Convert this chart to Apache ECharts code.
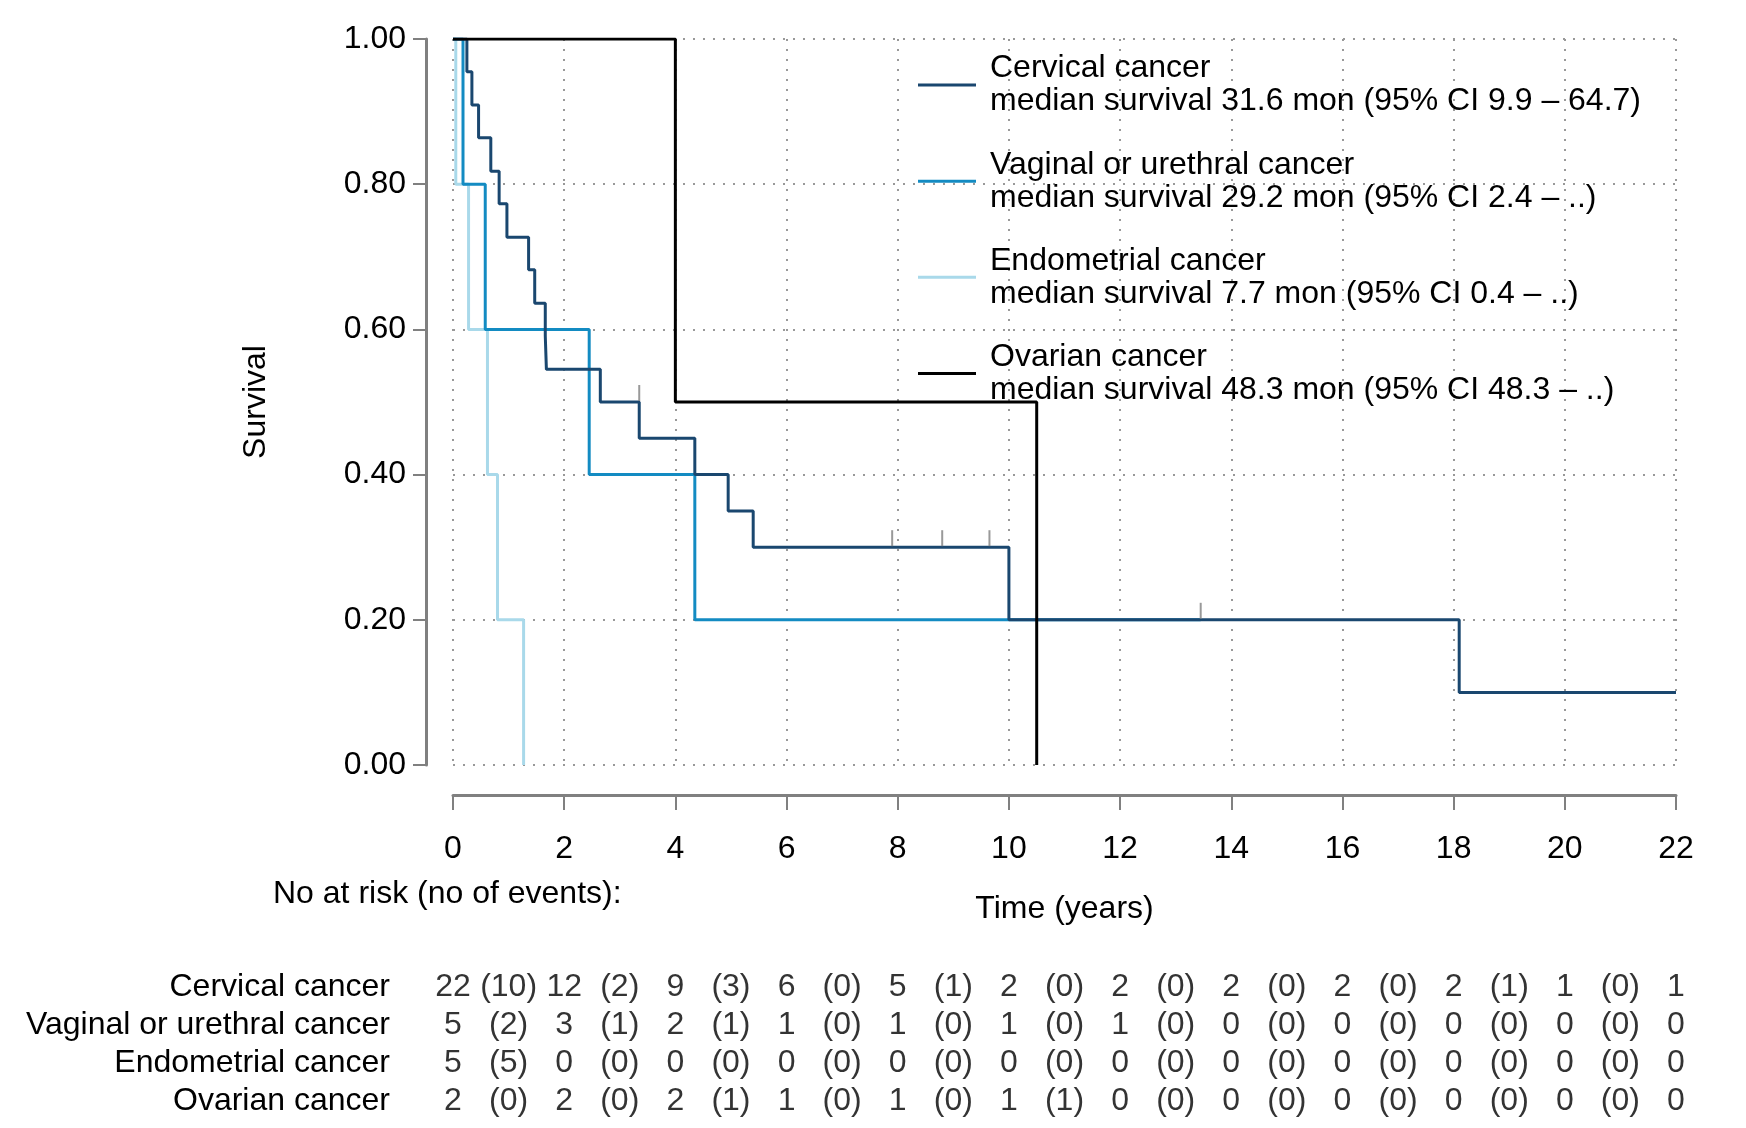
<html>
<head>
<script src="https://cdnjs.cloudflare.com/ajax/libs/echarts/6.0.0/echarts.min.js"></script>
</head>
<body style="margin:0">
<div id="main" style="width:1746px;height:1128px;"></div>
<script>
var groups = ['Cervical cancer', 'Vaginal or urethral cancer', 'Endometrial cancer', 'Ovarian cancer'];
var medians = ['median survival 31.6 mon (95% CI 9.9 \u2013 64.7)', 'median survival 29.2 mon (95% CI 2.4 \u2013 ..)',
    'median survival 7.7 mon (95% CI 0.4 \u2013 ..)', 'median survival 48.3 mon (95% CI 48.3 \u2013 ..)'];
var colors = ['#1a476f', '#138bc2', '#a9d9ea', '#000000'];

// Kaplan-Meier steps [years, survival]
var cervical = [[0, 1], [0.25, 0.955], [0.34, 0.909], [0.46, 0.864], [0.68, 0.818], [0.83, 0.773], [0.97, 0.727],
    [1.36, 0.682], [1.47, 0.636], [1.66, 0.591], [1.68, 0.545], [2.65, 0.5], [3.35, 0.45], [4.35, 0.4],
    [4.95, 0.35], [5.4, 0.3], [10.0, 0.2], [18.1, 0.1], [22, 0.1]];
var vaginal = [[0, 1], [0.18, 0.8], [0.58, 0.6], [2.45, 0.4], [4.35, 0.2], [13.45, 0.2]];
var endometrial = [[0, 1], [0.05, 0.8], [0.28, 0.6], [0.62, 0.4], [0.8, 0.2], [1.27, 0]];
var ovarian = [[0, 1], [4.0, 0.5], [10.5, 0], [10.5, 0]];
var cervicalCensor = [[3.35, 0.5], [7.9, 0.3], [8.8, 0.3], [9.65, 0.3]];
var vaginalCensor = [[13.45, 0.2]];

// number at risk at 0,2,...,22 and events in between
var atRisk = [
    [22, 12, 9, 6, 5, 2, 2, 2, 2, 2, 1, 1],
    [5, 3, 2, 1, 1, 1, 1, 0, 0, 0, 0, 0],
    [5, 0, 0, 0, 0, 0, 0, 0, 0, 0, 0, 0],
    [2, 2, 2, 1, 1, 1, 0, 0, 0, 0, 0, 0]
];
var events = [
    [10, 2, 3, 0, 1, 0, 0, 0, 0, 1, 0],
    [2, 1, 1, 0, 0, 0, 0, 0, 0, 0, 0],
    [5, 0, 0, 0, 0, 0, 0, 0, 0, 0, 0],
    [0, 0, 1, 0, 0, 1, 0, 0, 0, 0, 0]
];

var font = 'Liberation Sans, Arial, sans-serif';
var fs = 32;
var grey = '#808080';

var tableData = [];
for (var r = 0; r < groups.length; r++) {
    for (var i = 0; i < atRisk[r].length; i++) tableData.push([i * 2, groups[r], String(atRisk[r][i])]);
    for (var j = 0; j < events[r].length; j++) tableData.push([j * 2 + 1, groups[r], '(' + events[r][j] + ')']);
}

var kmSeries = [cervical, vaginal, endometrial, ovarian].map(function (d, k) {
    return {
        name: groups[k], type: 'line', step: 'end', data: d, showSymbol: false,
        lineStyle: { color: colors[k], width: 3 }, itemStyle: { color: colors[k] },
        z: k == 3 ? 5 : 4 - k, silent: true
    };
});
function censor(d) {
    return {
        type: 'scatter', data: d, symbol: 'rect', symbolSize: [2, 16], symbolOffset: [0, -9],
        itemStyle: { color: grey }, silent: true, z: 6
    };
}

var chart = echarts.init(document.getElementById('main'));
chart.setOption({
    animation: false,
    backgroundColor: '#fff',
    textStyle: { fontFamily: font },
    legend: {
        data: groups, orient: 'vertical', left: 913, top: 36, itemGap: 8,
        itemWidth: 58, itemHeight: 3, icon: 'rect',
        formatter: function (n) { return n + '\n' + medians[groups.indexOf(n)]; },
        textStyle: { fontSize: fs, lineHeight: 33, color: '#000', fontFamily: font, padding: [0, 0, 0, 9] }
    },
    grid: [
        { left: 453, right: 70, top: 39, height: 726 },
        { left: 453, right: 70, top: 968, height: 160 }
    ],
    xAxis: [{
        type: 'value', min: 0, max: 22, interval: 2, offset: 30,
        axisLine: { show: true, onZero: false, lineStyle: { color: grey, width: 3 } },
        axisTick: { show: true, length: 15, lineStyle: { color: grey, width: 2 } },
        axisLabel: { fontSize: fs, color: '#000', margin: 27 },
        splitLine: { show: true, lineStyle: { type: [2, 8], color: '#999', width: 2 } },
        name: 'Time (years)', nameLocation: 'middle', nameGap: 86,
        nameTextStyle: { fontSize: fs, color: '#000' }
    }, {
        gridIndex: 1, type: 'value', min: 0, max: 22, show: false
    }],
    yAxis: [{
        type: 'value', min: 0, max: 1, interval: 0.2, offset: 27,
        axisLine: { show: true, onZero: false, lineStyle: { color: grey, width: 3 } },
        axisTick: { show: true, length: 13, lineStyle: { color: grey, width: 2 } },
        axisLabel: { fontSize: fs, color: '#000', margin: 20, formatter: function (v) { return v.toFixed(2); } },
        splitLine: { show: true, lineStyle: { type: [2, 8], color: '#999', width: 2 } },
        name: 'Survival', nameLocation: 'middle', nameGap: 142, nameRotate: 90,
        nameTextStyle: { fontSize: fs, color: '#000' }
    }, {
        gridIndex: 1, type: 'category', data: groups, inverse: true,
        axisLine: { show: false }, axisTick: { show: false }, splitLine: { show: false },
        axisLabel: { fontSize: fs, color: '#000', margin: 63, interval: 0 },
        name: 'No at risk (no of events):', nameLocation: 'start', nameGap: 0,
        nameTextStyle: { fontSize: fs, color: '#000', align: 'left', padding: [0, 0, 0, -180], verticalAlign: 'bottom', lineHeight: 130 }
    }],
    series: kmSeries.concat([censor(cervicalCensor), censor(vaginalCensor), {
        type: 'scatter', xAxisIndex: 1, yAxisIndex: 1, data: tableData, symbolSize: 0, silent: true,
        label: {
            show: true, position: 'inside', fontSize: fs, color: '#000', fontFamily: font,
            formatter: function (p) { return p.data[2]; }
        }
    }])
});
</script>
</body>
</html>
